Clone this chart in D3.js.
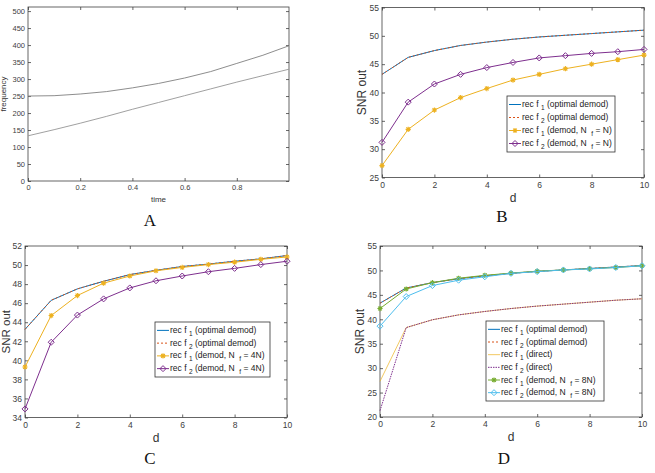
<!DOCTYPE html>
<meta charset="utf-8">
<style>
body { margin: 0; background: #fff; }
svg { display: block; font-family: "Liberation Sans", Arial, Helvetica, sans-serif; }
.tick text { fill: #404040; }
.tick line { stroke: #404040; stroke-width: 0.8; }
.frame { fill: none; stroke: #404040; stroke-width: 0.8; }
.panelLetter { font-family: "Liberation Serif", "Times New Roman", serif; font-size: 17px; fill: #111; }
</style>
<svg width="655" height="473"></svg>
<script src="https://cdn.jsdelivr.net/npm/d3@7"></script>
<script>

var svg = d3.select("svg");

// ---- data ----
var timeVals  = [0, 0.1, 0.2, 0.3, 0.4, 0.5, 0.6, 0.7, 0.8, 0.9, 1.0];
var freqUpper = [250, 251, 256, 263, 274, 287, 303, 322, 346, 370, 398];
var freqLower = [133, 151, 170, 190, 211, 231, 251, 271, 291, 310, 329];

var dVals = [0, 1, 2, 3, 4, 5, 6, 7, 8, 9, 10];

// panel B
var bOptimal = [43.2, 46.2, 47.4, 48.3, 48.9, 49.4, 49.8, 50.1, 50.4, 50.7, 51.0];
var bDemodF1 = [27.1, 33.5, 36.9, 39.1, 40.7, 42.2, 43.2, 44.2, 45.0, 45.8, 46.6];
var bDemodF2 = [31.2, 38.3, 41.5, 43.2, 44.4, 45.3, 46.1, 46.5, 46.9, 47.2, 47.6];

// panel C
var cOptimal = [43.25, 46.3, 47.5, 48.3, 49.0, 49.45, 49.85, 50.1, 50.4, 50.65, 51.0];
var cDemodF1 = [39.3, 44.7, 46.8, 48.1, 48.85, 49.4, 49.75, 50.05, 50.3, 50.6, 50.85];
var cDemodF2 = [34.9, 41.9, 44.75, 46.45, 47.6, 48.35, 48.85, 49.3, 49.65, 50.05, 50.4];

// panel D
var dOptimal = [43.3, 46.4, 47.5, 48.3, 48.9, 49.4, 49.8, 50.1, 50.4, 50.7, 51.0];
var dDirectF1 = [27.3, 38.3, 39.9, 40.9, 41.6, 42.2, 42.7, 43.1, 43.5, 43.9, 44.2];
var dDirectF2 = [21.3, 38.3, 39.9, 40.9, 41.6, 42.2, 42.7, 43.1, 43.5, 43.9, 44.2];
var dDemodF1 = [42.2, 46.2, 47.5, 48.4, 49.0, 49.45, 49.85, 50.1, 50.35, 50.6, 50.95];
var dDemodF2 = [38.6, 44.65, 46.9, 48.0, 48.7, 49.4, 49.75, 50.1, 50.3, 50.6, 50.95];

var timeTicks = [0, 0.2, 0.4, 0.6, 0.8];
var freqTicks = [0, 50, 100, 150, 200, 250, 300, 350, 400, 450, 500];
var dTicks = [0, 2, 4, 6, 8, 10];
var bTicks = [25, 30, 35, 40, 45, 50, 55];
var cTicks = [34, 36, 38, 40, 42, 44, 46, 48, 50, 52];
var dSnrTicks = [20, 25, 30, 35, 40, 45, 50, 55];

// legend texts: [text, subscript?]
var lblOpt1 = [["rec f ", 0], ["1", 1], [" (optimal demod)", 0]];
var lblOpt2 = [["rec f ", 0], ["2", 1], [" (optimal demod)", 0]];
var lblDir1 = [["rec f ", 0], ["1", 1], [" (direct)", 0]];
var lblDir2 = [["rec f ", 0], ["2", 1], [" (direct)", 0]];
function lblDemod(k, n) {
  return [["rec f ", 0], [k, 1], [" (demod, N  ", 0], ["f", 1], [" = " + n + ")", 0]];
}

var BLUE = "#0072BD", RED = "#D95319", YEL = "#EDB120", PUR = "#7E2F8E",
    GRN = "#77AC30", CYA = "#4DBEEE";

// ---- helpers ----
function drawMarker(g, kind, cx, cy, color) {
  if (kind == "star") {
    var r = 2.6, q = r * 0.72;
    g.append("path")
      .attr("d", "M" + (cx - r) + "," + cy + "h" + 2 * r +
                 "M" + cx + "," + (cy - r) + "v" + 2 * r +
                 "M" + (cx - q) + "," + (cy - q) + "l" + 2 * q + "," + 2 * q +
                 "M" + (cx - q) + "," + (cy + q) + "l" + 2 * q + "," + (-2 * q))
      .attr("stroke", color).attr("stroke-width", 1.1).attr("fill", "none");
  } else if (kind == "diamond") {
    var s = 3;
    g.append("path")
      .attr("d", "M" + cx + "," + (cy - s) + "L" + (cx + s) + "," + cy +
                 "L" + cx + "," + (cy + s) + "L" + (cx - s) + "," + cy + "Z")
      .attr("stroke", color).attr("stroke-width", 1).attr("fill", "none");
  }
}

function panel(cfg) {
  var x = d3.scaleLinear().domain(cfg.xDomain).range([cfg.left, cfg.right]);
  var y = d3.scaleLinear().domain(cfg.yDomain).range([cfg.bottom, cfg.top]);
  var g = svg.append("g");
  var fs = cfg.tickFont;

  var ax = g.append("g").attr("transform", "translate(0," + cfg.bottom + ")")
    .call(d3.axisBottom(x).tickValues(cfg.xTicks).tickSizeInner(-3).tickSizeOuter(0)
      .tickPadding(4).tickFormat(cfg.xFormat || d3.format("")));
  ax.selectAll("text").attr("font-size", fs);
  g.append("g").attr("transform", "translate(0," + cfg.top + ")")
    .call(d3.axisTop(x).tickValues(cfg.xTicks).tickSizeInner(-3).tickSizeOuter(0).tickFormat(""));
  var ay = g.append("g").attr("transform", "translate(" + cfg.left + ",0)")
    .call(d3.axisLeft(y).tickValues(cfg.yTicks).tickSizeInner(-3).tickSizeOuter(0)
      .tickPadding(3).tickFormat(d3.format("")));
  ay.selectAll("text").attr("font-size", fs);
  g.append("g").attr("transform", "translate(" + cfg.right + ",0)")
    .call(d3.axisRight(y).tickValues(cfg.yTicks).tickSizeInner(-3).tickSizeOuter(0).tickFormat(""));
  g.selectAll(".domain").remove();

  g.append("rect").attr("class", "frame")
    .attr("x", cfg.left).attr("y", cfg.top)
    .attr("width", cfg.right - cfg.left).attr("height", cfg.bottom - cfg.top);

  cfg.series.forEach(function(s) {
    var line = d3.line().x(function(d, i) { return x(s.xs[i]); }).y(function(d) { return y(d); });
    g.append("path").datum(s.ys)
      .attr("d", line)
      .attr("fill", "none")
      .attr("stroke", s.color)
      .attr("stroke-width", s.width || 1)
      .attr("stroke-dasharray", s.dash || null);
    if (s.marker) {
      s.ys.forEach(function(v, i) { drawMarker(g, s.marker, x(s.xs[i]), y(v), s.color); });
    }
  });

  // axis labels
  g.append("text")
    .attr("x", (cfg.left + cfg.right) / 2).attr("y", cfg.bottom + cfg.xLabelDy)
    .attr("text-anchor", "middle").attr("font-size", cfg.labelFont).attr("fill", "#333")
    .text(cfg.xLabel);
  g.append("text")
    .attr("transform", "translate(" + cfg.yLabelX + "," + (cfg.top + cfg.bottom) / 2 + ") rotate(-90)")
    .attr("text-anchor", "middle").attr("font-size", cfg.yLabelFont || cfg.labelFont).attr("fill", "#333")
    .text(cfg.yLabel);

  g.append("text").attr("class", "panelLetter")
    .attr("x", cfg.letterX).attr("y", cfg.letterY)
    .attr("text-anchor", "middle").text(cfg.letter);

  if (cfg.legend) {
    var L = cfg.legend;
    var lg = g.append("g");
    lg.append("rect")
      .attr("x", L.x).attr("y", L.y).attr("width", L.w).attr("height", L.h)
      .attr("fill", "#fff").attr("stroke", "#333").attr("stroke-width", 0.8);
    var rowH = (L.h - 4) / cfg.series.length;
    cfg.series.forEach(function(s, i) {
      var cy = L.y + 2 + rowH * (i + 0.5);
      lg.append("line")
        .attr("x1", L.x + 2).attr("x2", L.x + 14).attr("y1", cy).attr("y2", cy)
        .attr("stroke", s.color).attr("stroke-width", s.width || 1)
        .attr("stroke-dasharray", s.dash || null);
      if (s.marker) drawMarker(lg, s.marker, L.x + 8, cy, s.color);
      var t = lg.append("text")
        .attr("x", L.x + 15).attr("y", cy + 2.5)
        .attr("font-size", 8.5).attr("fill", "#222")
        .attr("xml:space", "preserve").style("white-space", "pre");
      var down = false;
      s.label.forEach(function(p) {
        var ts = t.append("tspan").text(p[0]);
        if (p[1]) { ts.attr("dy", 3).attr("font-size", 6.5); down = true; }
        else if (down) { ts.attr("dy", -3); down = false; }
      });
    });
  }
}

// ---- panel A ----
panel({
  left: 28, right: 289, top: 7, bottom: 181,
  xDomain: [0, 1], yDomain: [0, 512],
  xTicks: timeTicks, yTicks: freqTicks, tickFont: 7.5,
  xFormat: function(d) { return d == 0 ? "0" : d3.format(".1f")(d); },
  series: [
    { xs: timeVals, ys: freqUpper, color: "#808080", width: 0.9 },
    { xs: timeVals, ys: freqLower, color: "#959595", width: 0.9 }
  ],
  xLabel: "time", xLabelDy: 21, yLabel: "frequency", yLabelX: 6, labelFont: 8,
  letter: "A", letterX: 150, letterY: 226
});

// ---- panel B ----
panel({
  left: 382, right: 644, top: 7.5, bottom: 177.5,
  xDomain: [0, 10], yDomain: [25, 55],
  xTicks: dTicks, yTicks: bTicks, tickFont: 8.5,
  series: [
    { xs: dVals, ys: bOptimal, color: BLUE, label: lblOpt1 },
    { xs: dVals, ys: bOptimal, color: RED, dash: "2,2", label: lblOpt2 },
    { xs: dVals, ys: bDemodF1, color: YEL, marker: "star", label: lblDemod("1", "N") },
    { xs: dVals, ys: bDemodF2, color: PUR, marker: "diamond", label: lblDemod("2", "N") }
  ],
  legend: { x: 507, y: 96, w: 108, h: 56 },
  xLabel: "d", xLabelDy: 24, yLabel: "SNR out", yLabelX: 366, labelFont: 12,
  letter: "B", letterX: 502, letterY: 222
});

// ---- panel C ----
panel({
  left: 25, right: 287, top: 246, bottom: 417.5,
  xDomain: [0, 10], yDomain: [34, 52],
  xTicks: dTicks, yTicks: cTicks, tickFont: 8.5,
  series: [
    { xs: dVals, ys: cOptimal, color: BLUE, label: lblOpt1 },
    { xs: dVals, ys: cOptimal, color: RED, dash: "2,2", label: lblOpt2 },
    { xs: dVals, ys: cDemodF1, color: YEL, marker: "star", label: lblDemod("1", "4N") },
    { xs: dVals, ys: cDemodF2, color: PUR, marker: "diamond", label: lblDemod("2", "4N") }
  ],
  legend: { x: 155, y: 322, w: 115, h: 55 },
  xLabel: "d", xLabelDy: 24, yLabel: "SNR out", yLabelX: 10, labelFont: 12, yLabelFont: 11.5,
  letter: "C", letterX: 150, letterY: 464
});

// ---- panel D ----
panel({
  left: 380, right: 642, top: 246, bottom: 417,
  xDomain: [0, 10], yDomain: [20, 55],
  xTicks: dTicks, yTicks: dSnrTicks, tickFont: 8.5,
  series: [
    { xs: dVals, ys: dOptimal, color: BLUE, label: lblOpt1 },
    { xs: dVals, ys: dOptimal, color: RED, dash: "2,2", label: lblOpt2 },
    { xs: dVals, ys: dDirectF1, color: YEL, width: 0.7, label: lblDir1 },
    { xs: dVals, ys: dDirectF2, color: PUR, dash: "1.5,1", label: lblDir2 },
    { xs: dVals, ys: dDemodF1, color: GRN, marker: "star", label: lblDemod("1", "8N") },
    { xs: dVals, ys: dDemodF2, color: CYA, marker: "diamond", label: lblDemod("2", "8N") }
  ],
  legend: { x: 486, y: 321, w: 118, h: 80 },
  xLabel: "d", xLabelDy: 24, yLabel: "SNR out", yLabelX: 364, labelFont: 12,
  letter: "D", letterX: 504, letterY: 464
});

</script>
